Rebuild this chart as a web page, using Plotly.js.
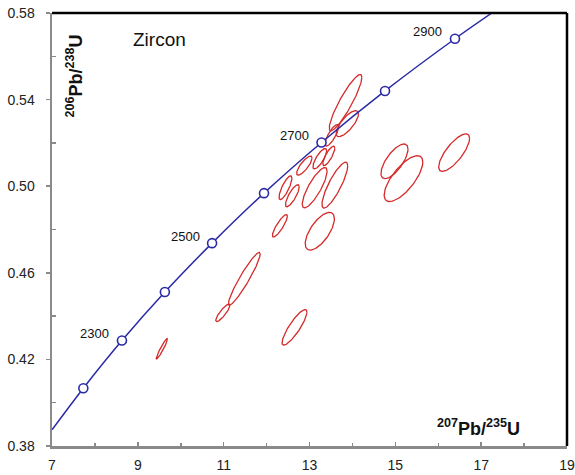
<!DOCTYPE html>
<html>
<head>
<meta charset="utf-8">
<script src="https://cdn.plot.ly/plotly-3.0.1.min.js"></script>
<style>html,body{margin:0;padding:0;background:#fff;}#chart{width:575px;height:475px;}</style>
</head>
<body>
<div id="chart"></div>
<script>
// Concordia age markers (Ma) and their positions
const concAges = [2200, 2300, 2400, 2500, 2600, 2700, 2800, 2900];
const concX = [7.73, 8.63, 9.63, 10.73, 11.94, 13.28, 14.76, 16.39];
const concY = [0.4067, 0.4287, 0.4511, 0.4737, 0.4968, 0.5202, 0.5440, 0.5681];
const labelledAges = [2300, 2500, 2700, 2900];
// Concordia curve entry/exit points at plot edges
const curveStartX = 7.0, curveStartY = 0.3875;
const curveEndX = 17.25, curveEndY = 0.58;

// Error ellipses: centre, half-extent in x and y, correlation
const ellX   = [9.56, 10.98, 11.48, 12.65, 12.31, 13.24, 12.44, 12.60, 12.88, 13.12, 13.59, 13.84, 13.88, 13.24, 13.45, 13.52, 14.98, 15.19, 16.37];
const ellY   = [0.4249, 0.4415, 0.4572, 0.4348, 0.4817, 0.4792, 0.4993, 0.4956, 0.5095, 0.4993, 0.5005, 0.5386, 0.5289, 0.5127, 0.5140, 0.5235, 0.5115, 0.5035, 0.5155];
const ellSx  = [0.13, 0.165, 0.37, 0.29, 0.175, 0.34, 0.15, 0.16, 0.18, 0.29, 0.30, 0.38, 0.26, 0.16, 0.14, 0.16, 0.315, 0.45, 0.36];
const ellSy  = [0.0047, 0.0040, 0.0122, 0.0082, 0.0052, 0.0087, 0.0055, 0.0051, 0.0044, 0.0093, 0.0106, 0.0130, 0.0060, 0.0047, 0.0045, 0.0050, 0.0080, 0.0106, 0.0087];
const ellRho = [0.95, 0.86, 0.94, 0.86, 0.86, 0.66, 0.80, 0.80, 0.80, 0.82, 0.84, 0.90, 0.75, 0.78, 0.80, 0.80, 0.70, 0.72, 0.76];

const xTicks = [7, 9, 11, 13, 15, 17, 19];
const yTicks = [0.38, 0.42, 0.46, 0.50, 0.54, 0.58];

const traces = [];
// ellipses
for (let i = 0; i < ellX.length; i++) {
  const xs = [], ys = [];
  const r = ellRho[i], s = Math.sqrt(1 - r * r);
  for (let k = 0; k <= 120; k++) {
    const t = 2 * Math.PI * k / 120;
    xs.push(ellX[i] + ellSx[i] * Math.cos(t));
    ys.push(ellY[i] + ellSy[i] * (r * Math.cos(t) + s * Math.sin(t)));
  }
  traces.push({x: xs, y: ys, mode: 'lines', line: {color: '#d42a2a', width: 1.3}, hoverinfo: 'skip', showlegend: false});
}
// concordia curve
traces.push({
  x: [curveStartX].concat(concX, [curveEndX]),
  y: [curveStartY].concat(concY, [curveEndY]),
  mode: 'lines', line: {color: '#2a2aa6', width: 1.5, shape: 'spline', smoothing: 0.8},
  showlegend: false, hoverinfo: 'skip'
});
traces.push({
  x: concX, y: concY, mode: 'markers',
  marker: {symbol: 'circle', size: 9, color: '#ffffff', line: {color: '#2a2aa6', width: 1.6}},
  showlegend: false
});

const annotations = [];
labelledAges.forEach(a => {
  const i = concAges.indexOf(a);
  annotations.push({x: concX[i], y: concY[i], xref: 'x', yref: 'y', text: String(a), showarrow: false,
    xshift: -27, yshift: 7, font: {family: 'Liberation Sans, Arial, sans-serif', size: 13, color: '#111'}});
});
annotations.push({x: 8.85, y: 0.5677, xref: 'x', yref: 'y', xanchor: 'left', text: 'Zircon', showarrow: false,
  font: {family: 'Liberation Sans, Arial, sans-serif', size: 19, color: '#111'}});
annotations.push({x: 7.535, y: 0.5511, xref: 'x', yref: 'y', text: '<b><sup>206</sup>Pb/<sup>238</sup>U</b>', textangle: -90,
  showarrow: false, font: {family: 'Liberation Sans, Arial, sans-serif', size: 18, color: '#111'}});
annotations.push({x: 16.93, y: 0.3885, xref: 'x', yref: 'y', text: '<b><sup>207</sup>Pb/<sup>235</sup>U</b>',
  showarrow: false, font: {family: 'Liberation Sans, Arial, sans-serif', size: 18, color: '#111'}});

const layout = {
  width: 575, height: 475,
  margin: {l: 52, r: 8, t: 13, b: 29},
  paper_bgcolor: '#fff', plot_bgcolor: '#fff',
  font: {family: 'Liberation Sans, Arial, sans-serif', size: 13, color: '#222'},
  xaxis: {range: [7, 19], tickvals: xTicks, ticktext: xTicks.map(String), showgrid: false, zeroline: false,
    showline: true, linecolor: '#8a8a8a', linewidth: 2.5, ticks: 'inside', ticklen: 4, tickcolor: '#8a8a8a', tickwidth: 1.5,
    ticklabelstandoff: 5, tickfont: {size: 14},
    minor: {dtick: 1, tick0: 7, ticks: 'inside', ticklen: 3, tickcolor: '#8a8a8a', tickwidth: 1.5, showgrid: false}},
  yaxis: {range: [0.38, 0.58], tickvals: yTicks, ticktext: yTicks.map(v => v.toFixed(2)), showgrid: false, zeroline: false,
    showline: true, linecolor: '#8a8a8a', linewidth: 2.5, ticks: 'outside', ticklen: 4, tickcolor: '#8a8a8a', tickwidth: 1.5,
    ticklabelstandoff: 8, tickfont: {size: 14},
    minor: {dtick: 0.04, tick0: 0.40, ticks: 'inside', ticklen: 4, tickcolor: '#8a8a8a', tickwidth: 1.5, showgrid: false}},
  shapes: [
    {type: 'line', xref: 'paper', yref: 'paper', x0: 0, x1: 1, y0: 1, y1: 1, line: {color: '#000', width: 2.5}},
    {type: 'line', xref: 'paper', yref: 'paper', x0: 1, x1: 1, y0: 0, y1: 1, line: {color: '#000', width: 2.5}}
  ],
  annotations: annotations
};
Plotly.newPlot('chart', traces, layout, {displayModeBar: false, staticPlot: true});
</script>
</body>
</html>
